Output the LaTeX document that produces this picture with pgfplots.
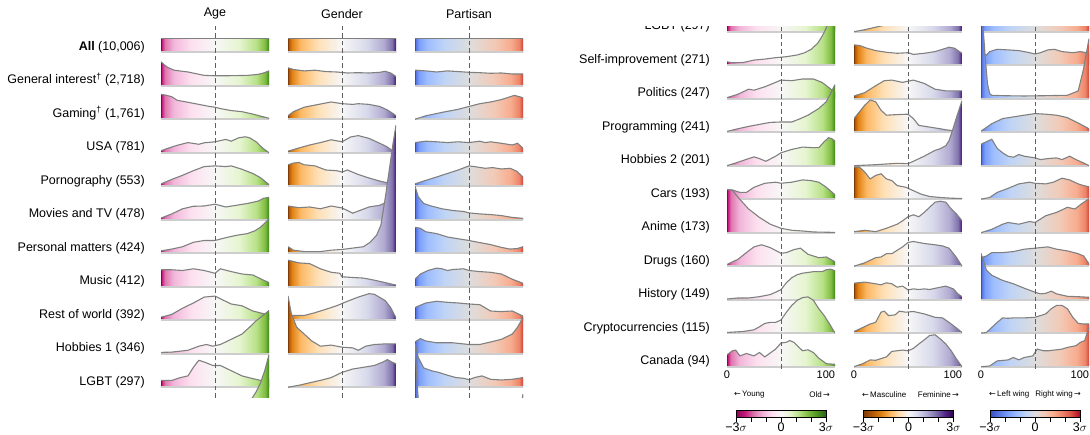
\documentclass[border=0pt]{standalone}
\usepackage{pgfplots}
\pgfplotsset{compat=1.18}
\usepackage{fontspec}
\setmainfont{Liberation Sans}
\newfontfamily\arrowfont{DejaVu Sans}

% PiYG
\definecolor{piyg0}{RGB}{142,1,82}\definecolor{piyg1}{RGB}{197,27,125}\definecolor{piyg2}{RGB}{222,119,174}
\definecolor{piyg3}{RGB}{241,182,218}\definecolor{piyg4}{RGB}{253,224,239}\definecolor{piyg5}{RGB}{247,247,247}
\definecolor{piyg6}{RGB}{230,245,208}\definecolor{piyg7}{RGB}{184,225,134}\definecolor{piyg8}{RGB}{127,188,65}
\definecolor{piyg9}{RGB}{77,146,33}\definecolor{piyg10}{RGB}{39,100,25}
% PuOr (orange -> purple)
\definecolor{puor0}{RGB}{127,59,8}\definecolor{puor1}{RGB}{179,88,6}\definecolor{puor2}{RGB}{224,130,20}
\definecolor{puor3}{RGB}{253,184,99}\definecolor{puor4}{RGB}{254,224,182}\definecolor{puor5}{RGB}{247,247,247}
\definecolor{puor6}{RGB}{216,218,235}\definecolor{puor7}{RGB}{178,171,210}\definecolor{puor8}{RGB}{128,115,172}
\definecolor{puor9}{RGB}{84,39,136}\definecolor{puor10}{RGB}{45,0,75}
% coolwarm
\definecolor{cw0}{RGB}{59,76,192}\definecolor{cw1}{RGB}{89,119,227}\definecolor{cw2}{RGB}{123,158,249}
\definecolor{cw3}{RGB}{159,190,255}\definecolor{cw4}{RGB}{192,212,245}\definecolor{cw5}{RGB}{221,221,221}
\definecolor{cw6}{RGB}{242,202,183}\definecolor{cw7}{RGB}{247,173,143}\definecolor{cw8}{RGB}{238,132,104}
\definecolor{cw9}{RGB}{215,83,69}\definecolor{cw10}{RGB}{180,4,38}

\definecolor{curvegray}{RGB}{128,128,128}
\definecolor{basegray}{RGB}{205,205,205}
\definecolor{dashgray}{RGB}{95,95,95}

% ridge shadings: colormap stops placed at percentiles Phi(sigma)
\pgfdeclarehorizontalshading{agesh}{100bp}{color(0bp)=(piyg0); color(25bp)=(piyg0); color(25.41bp)=(piyg1); color(26.8bp)=(piyg2); color(30.76bp)=(piyg3); color(38.71bp)=(piyg4); color(50bp)=(piyg5); color(61.29bp)=(piyg6); color(69.24bp)=(piyg7); color(73.2bp)=(piyg8); color(74.59bp)=(piyg9); color(75bp)=(piyg10); color(100bp)=(piyg10)}
\pgfdeclarehorizontalshading{gensh}{100bp}{color(0bp)=(puor0); color(25bp)=(puor0); color(25.41bp)=(puor1); color(26.8bp)=(puor2); color(30.76bp)=(puor3); color(38.71bp)=(puor4); color(50bp)=(puor5); color(61.29bp)=(puor6); color(69.24bp)=(puor7); color(73.2bp)=(puor8); color(74.59bp)=(puor9); color(75bp)=(puor10); color(100bp)=(puor10)}
\pgfdeclarehorizontalshading{parsh}{100bp}{color(0bp)=(cw0); color(25bp)=(cw0); color(25.41bp)=(cw1); color(26.8bp)=(cw2); color(30.76bp)=(cw3); color(38.71bp)=(cw4); color(50bp)=(cw5); color(61.29bp)=(cw6); color(69.24bp)=(cw7); color(73.2bp)=(cw8); color(74.59bp)=(cw9); color(75bp)=(cw10); color(100bp)=(cw10)}
% colorbar shadings: linear in sigma
\pgfdeclarehorizontalshading{agebar}{100bp}{color(0bp)=(piyg0); color(25bp)=(piyg0); color(30bp)=(piyg1); color(35bp)=(piyg2); color(40bp)=(piyg3); color(45bp)=(piyg4); color(50bp)=(piyg5); color(55bp)=(piyg6); color(60bp)=(piyg7); color(65bp)=(piyg8); color(70bp)=(piyg9); color(75bp)=(piyg10); color(100bp)=(piyg10)}
\pgfdeclarehorizontalshading{genbar}{100bp}{color(0bp)=(puor0); color(25bp)=(puor0); color(30bp)=(puor1); color(35bp)=(puor2); color(40bp)=(puor3); color(45bp)=(puor4); color(50bp)=(puor5); color(55bp)=(puor6); color(60bp)=(puor7); color(65bp)=(puor8); color(70bp)=(puor9); color(75bp)=(puor10); color(100bp)=(puor10)}
\pgfdeclarehorizontalshading{parbar}{100bp}{color(0bp)=(cw0); color(25bp)=(cw0); color(30bp)=(cw1); color(35bp)=(cw2); color(40bp)=(cw3); color(45bp)=(cw4); color(50bp)=(cw5); color(55bp)=(cw6); color(60bp)=(cw7); color(65bp)=(cw8); color(70bp)=(cw9); color(75bp)=(cw10); color(100bp)=(cw10)}

\pgfplotsset{
  curvel/.style={draw=curvegray, line width=1.1pt, mark=none, forget plot},
  basel/.style={draw=basegray, line width=1.8pt, mark=none, forget plot},
  dashl/.style={draw=dashgray, line width=1.0pt, dash pattern=on 4.5pt off 3pt, mark=none, forget plot},
  colax/.style={scale only axis, width=108pt, xmin=0, xmax=100, clip=true},
  cbax/.style={scale only axis, width=90pt, height=6.6pt, xmin=-3, xmax=3, ymin=0, ymax=1,
     xtick={-3,-2,-1,0,1,2,3}, xticklabels={−3$\sigma$,,,0,,,3$\sigma$}, ytick=\empty,
     xtick pos=bottom, tick align=outside, major tick length=4.5pt,
     tick style={black, line width=0.6pt}, axis line style={black, line width=0.8pt}, axis on top,
     tick label style={font=\fontsize{12.5}{14}\selectfont},
     xticklabel style={inner sep=1pt}},
}

% one ridge: #1 shading, #2 baseline, #3 table (x = percentile, v = height)
\newcommand{\ridge}[3]{%
  \addplot[draw=none, shade, shading=#1, forget plot] table[row sep=\\, y expr=\thisrow{v}+(#2)] {#3} -- (axis cs:100,#2) -- (axis cs:0,#2) -- cycle;
  \addplot[basel] coordinates {(0,#2) (100,#2)};
  \addplot[curvel] table[row sep=\\, y expr=\thisrow{v}+(#2)] {#3};
}

\newcommand{\AgeRidges}{%
\ridge{agesh}{0}{x v\\0 14\\100 14\\}%
\ridge{agesh}{-33.5}{x v\\0 24\\3 21\\6 18.5\\12 15.6\\25 13.8\\40 10.4\\50 10\\60 10\\80 10.4\\90 11.4\\95 12.8\\100 14.9\\}%
\ridge{agesh}{-67}{x v\\0 24.9\\5 24\\10 22.5\\15 19\\25 17\\35 14.9\\45 12.8\\50 12.1\\55 10.7\\65 8.7\\75 7.6\\85 5.2\\100 1\\}%
\ridge{agesh}{-100.5}{x v\\0 2\\5 4\\15 7.5\\25 10.2\\35 8.5\\40 10\\50 11\\60 13.4\\65 11.6\\72 15\\78 16\\82 15\\88 11\\94 4.8\\100 0\\}%
\ridge{agesh}{-134}{x v\\0 2.4\\10 6.9\\20 11\\30 15.6\\40 19.7\\50 20.4\\60 19.7\\65 20.4\\75 17\\85 12.8\\92 8.7\\100 1.7\\}%
\ridge{agesh}{-167.5}{x v\\0 1.7\\10 5.9\\20 11\\30 13.5\\40 13.8\\50 15.6\\60 12.8\\70 14.5\\80 16.3\\90 18.7\\95 21.5\\100 22.5\\}%
\ridge{agesh}{-201}{x v\\0 2.4\\10 4.2\\20 6.6\\30 11\\40 12.8\\50 12.8\\60 15.6\\70 18\\80 19.7\\87 22.5\\92 26\\96 30\\100 34.6\\}%
\ridge{agesh}{-234.5}{x v\\0 17\\10 17\\20 16.3\\30 18\\40 16.3\\50 13.5\\55 18\\65 15.2\\75 12.8\\85 11.8\\95 6.6\\100 4.2\\}%
\ridge{agesh}{-268}{x v\\0 3.1\\10 5.9\\20 12.1\\30 17.3\\40 23.2\\50 24.2\\55 21.5\\65 16.3\\75 14.5\\85 9.3\\95 6.6\\100 5.9\\}%
\ridge{agesh}{-301.5}{x v\\0 1.4\\10 1.7\\25 3.5\\35 7.6\\42 9.3\\48 7.6\\55 9.3\\65 14.5\\75 19.7\\82 26.6\\88 32.9\\95 38.8\\100 43.3\\}%
\ridge{agesh}{-335}{x v\\0 6.9\\10 6.9\\18 9.7\\25 11.4\\30 20\\35 27\\40 25.3\\48 21.8\\55 21.8\\65 16.6\\75 11.4\\85 8.7\\95 6.2\\100 8\\}%
\ridge{agesh}{-368.5}{x v\\0 3.4\\5 2.4\\15 2.7\\25 5.1\\35 6.1\\45 7.5\\55 8.5\\65 10.2\\72 12.5\\78 15.9\\84 22\\88 28.8\\92 37.3\\96 50\\100 66\\}%
\ridge{agesh}{-402}{x v\\0 1\\10 4.4\\20 9.5\\25 8.5\\35 11.9\\45 16.3\\50 18.6\\60 18\\70 19.7\\80 19.7\\88 16.3\\95 10.5\\100 6.1\\}%
\ridge{agesh}{-435.5}{x v\\0 0.7\\10 3.4\\20 5.8\\30 7.8\\40 9.8\\50 10.2\\60 10.2\\68 13.6\\75 17\\85 23.7\\92 30.5\\100 47.5\\}%
\ridge{agesh}{-469}{x v\\0 0\\10 3.4\\20 7.1\\25 8.8\\30 7.1\\36 4.4\\45 9.5\\50 12.9\\60 16.3\\70 18.6\\80 18\\85 18\\90 24\\94 28\\97 27\\100 24.7\\}%
\ridge{agesh}{-502.5}{x v\\0 9.2\\5 9.2\\12 6.8\\18 6.8\\25 11.9\\35 15.9\\45 17\\50 15.9\\60 17\\70 19.3\\78 18.6\\85 17\\92 11.9\\100 4.4\\}%
\ridge{agesh}{-536}{x v\\0 43\\5 42.4\\10 35.6\\20 23.7\\30 15.3\\40 8.5\\50 4.4\\60 2.4\\70 1.7\\80 0.7\\100 0.3\\}%
\ridge{agesh}{-569.5}{x v\\0 1.7\\10 6.8\\20 15.3\\25 19.3\\32 21.4\\40 18.6\\50 12.9\\55 13.6\\62 16.6\\68 18\\75 11.9\\85 8.5\\92 9.2\\100 4.4\\}%
\ridge{agesh}{-603}{x v\\0 0.7\\10 1.7\\20 1.7\\30 3\\40 5.1\\45 7.5\\50 10\\55 17\\60 22\\65 25\\70 26.5\\80 28\\88 28\\92 30\\96 30.5\\100 29\\}%
\ridge{agesh}{-636.5}{x v\\0 0.7\\15 1.7\\25 3.4\\30 6.4\\35 9.8\\40 10.8\\45 10.8\\50 13.2\\55 21\\60 27.8\\65 32.9\\70 35.6\\75 36.3\\80 32.9\\85 24.4\\90 17.6\\95 9.2\\100 0\\}%
\ridge{agesh}{-670}{x v\\0 11.9\\5 15.9\\8 16.6\\12 10.8\\18 13.2\\25 10.8\\30 14.2\\35 9.8\\45 17.6\\50 23.7\\55 24.4\\58 26.1\\62 24.4\\66 20\\70 15.9\\75 16.9\\80 14.2\\85 8.5\\92 3\\100 2.4\\}%
}

\newcommand{\GenRidges}{%
\ridge{gensh}{0}{x v\\0 14\\100 14\\}%
\ridge{gensh}{-33.5}{x v\\0 18\\5 16.3\\15 14.9\\25 15.6\\35 14.2\\45 13.8\\55 12.8\\65 13.1\\75 12.8\\85 13.5\\90 14.5\\95 12.8\\100 9.3\\}%
\ridge{gensh}{-67}{x v\\0 3.5\\5 7.6\\15 12.1\\25 14.2\\35 16.3\\40 17.3\\50 15.6\\60 14.9\\65 15.6\\75 14.9\\85 12.8\\92 9.3\\97 5.9\\100 3.5\\}%
\ridge{gensh}{-100.5}{x v\\0 1.6\\10 4.8\\20 7.8\\30 10.2\\40 13\\50 11\\58 15.8\\65 17.2\\75 14.4\\85 9.5\\92 5.8\\97 1.8\\100 0\\}%
\ridge{gensh}{-134}{x v\\0 21.5\\5 23.2\\10 23.9\\15 21.5\\25 20.4\\35 16.3\\45 15.6\\50 14.2\\55 16.3\\65 11.8\\75 8.3\\85 5.2\\92 3.5\\95 3.1\\100 2.4\\}%
\ridge{gensh}{-167.5}{x v\\0 13.8\\10 12.1\\20 12.8\\30 11\\40 13.8\\50 11.8\\55 9.3\\60 6.6\\65 8.7\\75 12.8\\85 14.5\\90 17\\95 22\\100 24\\}%
\ridge{gensh}{-201}{x v\\0 6.6\\5 3.1\\15 1.7\\30 1.7\\40 3.1\\50 3.8\\60 5.2\\70 6.6\\76 11\\82 18\\86 28\\90 55\\94 85\\97 108\\100 128\\}%
\ridge{gensh}{-234.5}{x v\\0 26.6\\10 23.9\\20 23.2\\30 18\\40 14.5\\48 13.5\\50 10\\60 9.3\\70 8.7\\80 6.6\\90 4.2\\97 2.4\\100 1.7\\}%
\ridge{gensh}{-268}{x v\\0 4.2\\5 4.8\\15 4.8\\25 7.6\\35 11\\45 14.5\\55 19\\65 23.2\\75 26.6\\80 26\\90 19.7\\95 12.8\\100 2.4\\}%
\ridge{gensh}{-301.5}{x v\\0 57.8\\3 40.5\\8 26.6\\15 19.7\\22 12.8\\30 7.6\\40 8.7\\50 6.6\\60 5.9\\65 3.5\\72 7.6\\80 9.3\\90 9.9\\100 9.9\\}%
\ridge{gensh}{-335}{x v\\0 0\\10 2\\20 4.5\\30 6.9\\40 9.7\\50 14.9\\60 18.3\\70 20\\80 21.8\\88 25.3\\92 27.7\\96 25.3\\100 23.5\\}%
\ridge{gensh}{-368.5}{x v\\0 20.3\\5 19.7\\12 17\\20 14.6\\30 12.9\\40 11.9\\50 12.5\\55 10.8\\65 11.9\\75 13.6\\82 15.9\\88 18\\93 17\\100 11.9\\}%
\ridge{gensh}{-402}{x v\\0 2.7\\10 6.1\\20 12.9\\28 18\\35 18.6\\45 16.3\\55 18.6\\65 15.3\\75 9.5\\85 7.8\\100 7.8\\}%
\ridge{gensh}{-435.5}{x v\\0 13.6\\5 20.3\\10 27\\15 32.2\\20 30.5\\25 22\\30 17\\40 17.6\\50 18\\55 13.6\\60 6.8\\70 5.1\\80 3.4\\85 2.4\\92 1.5\\100 1\\}%
\ridge{gensh}{-469}{x v\\0 0\\20 1\\30 1.7\\40 2.4\\50 2\\55 4.4\\65 9.5\\75 15.3\\80 17\\85 20\\88 25\\92 38\\96 52\\100 65\\}%
\ridge{gensh}{-502.5}{x v\\0 32.2\\5 32.2\\10 27\\15 20.3\\20 23.7\\25 25.4\\30 20.3\\35 18.6\\40 13.6\\48 11.9\\55 8.5\\62 5.1\\70 2.7\\80 1.7\\90 1\\100 0.7\\}%
\ridge{gensh}{-536}{x v\\0 1\\10 2.4\\20 1\\30 4.4\\40 8.5\\45 11.9\\50 15.9\\55 17.9\\60 15.9\\65 20.3\\70 25.4\\75 30.5\\80 31.5\\85 30.5\\90 23.7\\95 18.6\\100 11.9\\}%
\ridge{gensh}{-569.5}{x v\\0 0\\10 3.4\\20 8.5\\25 9.2\\30 12.5\\35 12.5\\40 15.9\\45 19.3\\50 23.7\\55 24.7\\65 22.7\\75 21.4\\82 20.3\\88 18\\95 8.5\\100 0\\}%
\ridge{gensh}{-603}{x v\\0 16.5\\10 17.6\\20 15.9\\25 14.9\\30 16.9\\35 15.9\\40 12.5\\45 13.6\\50 9.8\\55 10.8\\60 10.2\\65 10.8\\70 10.2\\80 12.5\\85 13.6\\92 10.8\\96 6\\100 3\\}%
\ridge{gensh}{-636.5}{x v\\0 1.7\\5 4.1\\15 9.2\\20 10.8\\25 21\\28 22\\32 17.6\\38 18.3\\42 22\\48 21\\55 21.7\\65 19.3\\75 15.9\\82 15.3\\88 10.8\\95 5.1\\100 0.7\\}%
\ridge{gensh}{-670}{x v\\0 0\\8 3\\15 6.8\\20 6.4\\30 9.8\\35 15.3\\45 16.6\\50 15.9\\55 18.3\\60 22.7\\65 26.8\\70 31.2\\75 31.9\\80 27.8\\85 22.7\\90 15.9\\95 7.5\\100 0\\}%
}

\newcommand{\ParRidges}{%
\ridge{parsh}{0}{x v\\0 14\\100 14\\}%
\ridge{parsh}{-33.5}{x v\\0 15.6\\10 14.9\\20 13.8\\30 14.9\\40 14.2\\50 13.5\\60 13.1\\70 12.5\\80 12.8\\90 11.8\\100 11.8\\}%
\ridge{parsh}{-67}{x v\\0 0\\10 3.5\\25 6.9\\40 10\\50 12.8\\60 15.6\\70 17.3\\80 19.7\\88 22.5\\92 23.9\\97 22.5\\100 21.5\\}%
\ridge{parsh}{-100.5}{x v\\0 10.2\\10 11.6\\20 11\\30 10.2\\40 11\\50 10.2\\60 11.6\\65 10.2\\70 11\\80 9.5\\90 7.8\\95 9.5\\100 4.5\\}%
\ridge{parsh}{-134}{x v\\0 2.4\\10 5.9\\20 9.3\\30 12.8\\40 16.3\\50 20.4\\55 19.7\\65 18\\72 18.7\\80 17.3\\88 18\\94 15.2\\100 9.3\\}%
\ridge{parsh}{-167.5}{x v\\0 33.6\\3 23\\8 16.3\\15 13.8\\25 11\\35 9.3\\45 8.3\\50 6.9\\60 5.9\\70 5.2\\80 4.2\\90 2.4\\100 1.4\\}%
\ridge{parsh}{-201}{x v\\0 26\\5 25\\10 21.5\\20 19.7\\30 16.3\\40 14.5\\50 12.8\\60 10.7\\70 8.7\\80 5.9\\88 4.2\\95 4.8\\100 6.6\\}%
\ridge{parsh}{-234.5}{x v\\0 7.6\\5 12.8\\12 16.3\\20 18.7\\25 18\\30 16.3\\35 17.3\\45 18\\50 16.3\\60 15.2\\70 14.5\\80 12.8\\90 7.6\\100 3.5\\}%
\ridge{parsh}{-268}{x v\\0 12.8\\10 17.3\\20 19\\30 18\\40 17.3\\50 16.3\\60 15.6\\70 9.3\\80 8.7\\90 9.3\\100 4.2\\}%
\ridge{parsh}{-301.5}{x v\\0 11.8\\5 15.2\\10 12.8\\20 11\\35 11\\50 9.3\\60 9.3\\70 11.8\\80 14.5\\90 19.7\\95 26.6\\100 36.3\\}%
\ridge{parsh}{-335}{x v\\0 44\\3 30\\8 19.4\\15 16.6\\22 14.9\\30 12.1\\38 9.7\\45 9\\50 7.6\\55 9.7\\62 11.4\\70 8\\80 7.3\\90 8\\100 9.7\\}%
\ridge{parsh}{-368.5}{x v\\0 12\\5 10\\8 13.6\\15 15.9\\25 15.3\\35 14.6\\45 12.5\\50 11.2\\55 12.5\\62 15.3\\68 15.9\\75 13.6\\85 12.5\\92 13.6\\100 11.9\\}%
\ridge{parsh}{-402}{x v\\0 110\\2 70\\4 40\\6 15\\8 5\\10 3.4\\20 3\\40 2.7\\60 3\\80 3.4\\90 7.8\\95 30\\100 60\\}%
\ridge{parsh}{-435.5}{x v\\0 1\\10 8.5\\20 13.6\\30 15.3\\40 17\\50 18.6\\60 18\\70 17\\80 14.6\\90 9.2\\100 3.4\\}%
\ridge{parsh}{-469}{x v\\0 21.4\\5 24\\10 26.4\\15 17.3\\20 12.9\\25 9.5\\30 8.5\\35 11.2\\40 9.5\\50 7.8\\55 6.1\\62 7.1\\70 7.8\\75 6.1\\82 9.5\\88 6.1\\95 2.7\\100 0\\}%
\ridge{parsh}{-502.5}{x v\\0 0\\8 1.7\\15 6.8\\25 10.8\\35 15.3\\45 17\\50 15.9\\60 15.3\\67 17\\75 21\\82 19.3\\90 15.3\\95 13.6\\100 12.5\\}%
\ridge{parsh}{-536}{x v\\0 0\\10 3.4\\20 8.5\\25 10.2\\35 8.5\\45 11.2\\50 10.2\\60 17\\70 20.3\\80 25.4\\87 23.7\\93 28.8\\100 33.9\\}%
\ridge{parsh}{-569.5}{x v\\0 8.5\\5 10.2\\10 13.6\\20 13.6\\30 14.6\\40 17\\50 18\\55 18.6\\62 19.3\\70 17\\80 15.3\\90 12.5\\95 10.2\\100 2.4\\}%
\ridge{parsh}{-603}{x v\\0 46.4\\5 29.5\\10 24.4\\20 19.3\\30 15.9\\40 11.5\\50 7.5\\55 5.8\\60 6.4\\65 8.5\\70 5.8\\80 3.4\\90 3\\100 2.4\\}%
\ridge{parsh}{-636.5}{x v\\0 0\\5 0.7\\10 5.8\\15 10.8\\20 15.3\\25 14.9\\30 15.3\\40 15.3\\50 15.9\\55 17.6\\60 19.3\\65 24.4\\70 27.8\\75 27.8\\80 24.4\\85 15.9\\90 9.8\\95 9.2\\100 9.2\\}%
\ridge{parsh}{-670}{x v\\0 0\\8 0.7\\15 5.8\\25 6.8\\30 9.2\\35 6.8\\40 9.2\\48 10.8\\52 17.6\\58 15.9\\62 15.9\\70 16.9\\75 17.6\\80 19.3\\88 21\\92 24.4\\96 26.1\\100 39.7\\}%
}

\newcommand{\lab}{\fontsize{12.5}{15}\selectfont}

\begin{document}
\begin{tikzpicture}
\useasboundingbox (0,0) rectangle (1090pt,435pt);

% ---------------- left panel ----------------
\begin{axis}[colax, hide axis, at={(161pt,410pt)}, anchor=north west, height=373pt, ymin=-345.7, ymax=27.3]
\AgeRidges
\addplot[dashl] coordinates {(50,-345.7) (50,27.3)};
\end{axis}
\begin{axis}[colax, hide axis, at={(288pt,410pt)}, anchor=north west, height=373pt, ymin=-345.7, ymax=27.3]
\GenRidges
\addplot[dashl] coordinates {(50,-345.7) (50,27.3)};
\end{axis}
\begin{axis}[colax, hide axis, at={(415pt,410pt)}, anchor=north west, height=373pt, ymin=-345.7, ymax=27.3]
\ParRidges
\addplot[dashl] coordinates {(50,-345.7) (50,27.3)};
\end{axis}

\node[font=\lab] at (215pt,421pt) {Age};
\node[font=\lab] at (342pt,421pt) {Gender};
\node[font=\lab] at (469pt,421pt) {Partisan};

\begin{scope}[every node/.style={anchor=base east, font=\lab, inner sep=0pt}]
\node at (145pt,384.7pt) {\textbf{All} (10,006)};
\node at (145pt,351.2pt) {General interest\textsuperscript{†} (2,718)};
\node at (145pt,317.7pt) {Gaming\textsuperscript{†} (1,761)};
\node at (145pt,284.2pt) {USA (781)};
\node at (145pt,250.7pt) {Pornography (553)};
\node at (145pt,217.2pt) {Movies and TV (478)};
\node at (145pt,183.7pt) {Personal matters (424)};
\node at (145pt,150.2pt) {Music (412)};
\node at (145pt,116.7pt) {Rest of world (392)};
\node at (145pt,83.2pt) {Hobbies 1 (346)};
\node at (145pt,49.7pt) {LGBT (297)};
\end{scope}

% ---------------- right panel ----------------
\pgfplotsset{rightax/.style={colax, at={(#1,408pt)}, anchor=north west, height=342pt, ymin=-672.3, ymax=-330.3,
   axis line style={draw=none}, major tick length=0pt, ytick=\empty, xtick={0,100}, xticklabels={0,\llap{100}},
   xtick pos=bottom, tick label style={font=\fontsize{11}{13}\selectfont}, xticklabel style={inner sep=2pt}}}
\begin{axis}[rightax=727pt]
\AgeRidges
\addplot[dashl] coordinates {(50,-672.3) (50,-330.3)};
\end{axis}
\begin{axis}[rightax=854pt]
\GenRidges
\addplot[dashl] coordinates {(50,-672.3) (50,-330.3)};
\end{axis}
\begin{axis}[rightax=981pt]
\ParRidges
\addplot[dashl] coordinates {(50,-672.3) (50,-330.3)};
\end{axis}

\begin{scope}
\clip (560pt,0pt) rectangle (720pt,408pt);
\begin{scope}[every node/.style={anchor=base east, font=\lab, inner sep=0pt}]
\node at (710pt,405.3pt) {LGBT (297)};
\node at (710pt,371.8pt) {Self-improvement (271)};
\node at (710pt,338.3pt) {Politics (247)};
\node at (710pt,304.8pt) {Programming (241)};
\node at (710pt,271.3pt) {Hobbies 2 (201)};
\node at (710pt,237.8pt) {Cars (193)};
\node at (710pt,204.3pt) {Anime (173)};
\node at (710pt,170.8pt) {Drugs (160)};
\node at (710pt,137.3pt) {History (149)};
\node at (710pt,103.8pt) {Cryptocurrencies (115)};
\node at (710pt,70.3pt) {Canada (94)};
\end{scope}
\end{scope}

\begin{scope}[every node/.style={font=\fontsize{8}{10}\selectfont, inner sep=0pt}]
\node[anchor=west] at (734pt,40.7pt) {{\arrowfont ←}\,Young};
\node[anchor=east] at (830pt,40.7pt) {Old\,{\arrowfont →}};
\node[anchor=west] at (862pt,40.7pt) {{\arrowfont ←}\,Masculine};
\node[anchor=east] at (959pt,40.7pt) {Feminine\,{\arrowfont →}};
\node[anchor=west] at (989pt,40.7pt) {{\arrowfont ←}\,Left wing};
\node[anchor=east] at (1081pt,40.7pt) {Right wing\,{\arrowfont →}};
\end{scope}

% ---------------- colour bars ----------------
\begin{axis}[cbax, at={(736pt,24.3pt)}, anchor=north west]
\addplot[draw=none, shade, shading=agebar] coordinates {(-3,0) (3,0) (3,1) (-3,1)} -- cycle;
\end{axis}
\begin{axis}[cbax, at={(863.5pt,24.3pt)}, anchor=north west]
\addplot[draw=none, shade, shading=genbar] coordinates {(-3,0) (3,0) (3,1) (-3,1)} -- cycle;
\end{axis}
\begin{axis}[cbax, at={(990pt,24.3pt)}, anchor=north west]
\addplot[draw=none, shade, shading=parbar] coordinates {(-3,0) (3,0) (3,1) (-3,1)} -- cycle;
\end{axis}
\end{tikzpicture}
\end{document}
